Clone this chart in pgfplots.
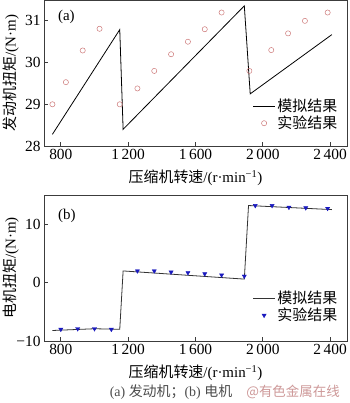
\documentclass[border=0pt]{standalone}
\usepackage{pgfplots}
\pgfplotsset{compat=1.18}
\usepackage{fontspec}
\setmainfont{Liberation Serif}
\newfontfamily\cjk{Noto Sans CJK SC}
\definecolor{expred}{RGB}{205,120,120}
\definecolor{expblue}{RGB}{25,25,190}
\definecolor{frame}{RGB}{60,60,60}
\pgfplotsset{
  linelegend/.style={legend image code/.code={\draw[##1] (0bp,0bp) -- (22bp,0bp);}},
  marklegend/.style={legend image code/.code={\draw[##1] plot coordinates {(11bp,0bp)};}},
}
\begin{document}
\begin{tikzpicture}[x=1bp,y=1bp]
\path[use as bounding box] (0,0) rectangle (350,-403);
\pgfplotsset{
  every axis/.append style={
    scale only axis, width=303bp, height=146bp,
    xmin=700, xmax=2500,
    xtick={800,1200,1600,2000,2400},
    tick align=inside, tick pos=left,
    axis line style={frame, line width=0.8pt},
    every tick/.style={frame, line width=0.8pt},
    major tick length=4bp,
    /pgf/number format/1000 sep={\,},
    /pgf/number format/assume math mode=true,
    tick label style={font=\fontsize{15.5}{15.5}\selectfont},
    every axis y label/.style={at={(rel axis cs:0,0.5)}, xshift=-33bp, rotate=90, anchor=center, font=\fontsize{15}{15}\selectfont},
    every axis x label/.style={at={(rel axis cs:0.5,0)}, yshift=-32bp, anchor=center, font=\fontsize{15}{15}\selectfont},
    xlabel={{\cjk 压缩机转速}/(r·min\textsuperscript{−1})},
    legend style={draw=none, fill=none, font=\fontsize{15}{16}\selectfont\cjk, anchor=north east, row sep=-1pt},
    legend cell align=left,
  }
}
\begin{axis}[at={(44bp,0bp)}, anchor=north west,
  ymin=28, ymax=31.5, ytick={28,29,30,31},
  ylabel={{\cjk 发动机扭矩}/(N·m)},
  legend style={at={(0.985,0.35)}},
]
\addplot[black, line width=0.8pt, linelegend] coordinates {(750,28.28)(1150,30.79)(1170,28.40)(1890,31.36)(1925,29.25)(2410,30.67)};
\addlegendentry{模拟结果}
\addplot[only marks, mark=o, mark size=2.6bp, expred, mark options={line width=0.5pt}, marklegend]
 coordinates {(750,29.0)(830,29.53)(930,30.29)(1030,30.81)(1150,29.0)(1255,29.38)(1355,29.8)(1455,30.2)(1555,30.5)(1655,30.8)(1755,31.2)(1920,29.8)(2050,30.3)(2150,30.7)(2250,31.0)(2385,31.2)};
\addlegendentry{实验结果}
\node[anchor=west, font=\fontsize{15}{15}\selectfont] at (rel axis cs:0.035,0.885) {(a)};
\end{axis}
\begin{axis}[at={(44bp,-195bp)}, anchor=north west,
  ymin=-10, ymax=15, ytick={-10,0,10}, yticklabels={−10,0,10},
  ylabel={{\cjk 电机扭矩}/(N·m)},
  legend style={at={(0.985,0.37)}},
]
\addplot[black!80, line width=0.8pt, linelegend] coordinates {(750,-8.2)(1000,-7.9)(1150,-8.0)(1170,2.0)(1890,0.6)(1915,13.2)(2410,12.5)};
\addlegendentry{模拟结果}
\addplot[only marks, mark=triangle*, mark size=2.4bp, expblue, mark options={rotate=180}, marklegend]
 coordinates {(800,-8)(900,-7.9)(1000,-7.9)(1100,-8)(1255,2.0)(1355,2.0)(1455,1.8)(1555,1.7)(1655,1.5)(1755,1.3)(1890,1.1)(1955,13.2)(2055,13.2)(2155,12.9)(2255,12.8)(2385,12.7)};
\addlegendentry{实验结果}
\node[anchor=west, font=\fontsize{15}{15}\selectfont] at (rel axis cs:0.035,0.86) {(b)};
\end{axis}
\node[font=\fontsize{14}{14}\selectfont, text=black!70] at (171,-392) {(a) {\cjk 发动机；}(b) {\cjk 电机}};
\node[font=\fontsize{13.5}{13.5}\selectfont\cjk, text=red!35!gray!60] at (293,-392) {@有色金属在线};
\end{tikzpicture}
\end{document}
